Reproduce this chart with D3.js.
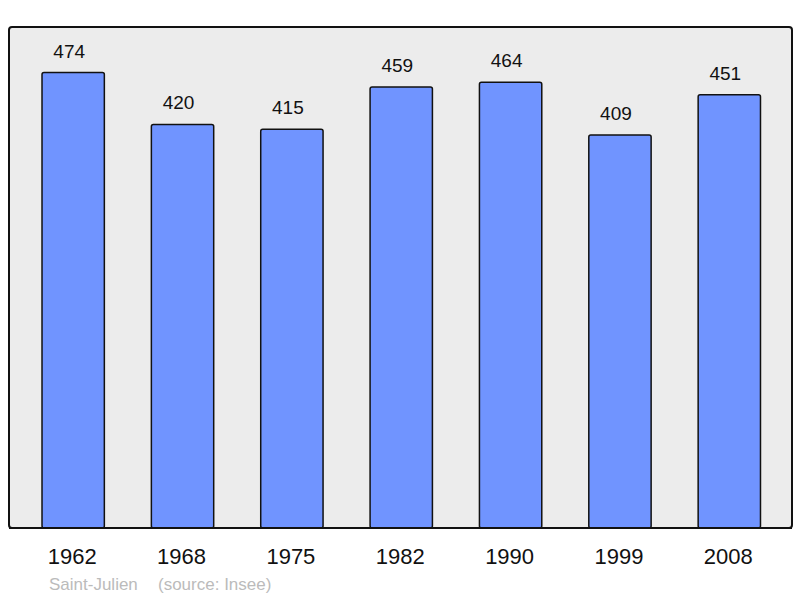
<!DOCTYPE html>
<html>
<head>
<meta charset="utf-8">
<script src="https://cdn.jsdelivr.net/npm/d3@7"></script>
<style>
  body { margin: 0; background: #fff; }
  text { font-family: "Liberation Sans", Arial, sans-serif; }
</style>
</head>
<body>
<svg id="chart" width="800" height="598"></svg>
<script>
// data
let years = ["1962", "1968", "1975", "1982", "1990", "1999", "2008"]
let population = [474, 420, 415, 459, 464, 409, 451]
let place = "Saint-Julien"
let source = "(source: Insee)"

let svg = d3.select("#chart"),
    frame = {left: 9, top: 27, right: 792, bottom: 528}

// background frame
svg.append("rect")
  .attr("x", frame.left)
  .attr("y", frame.top)
  .attr("width", frame.right - frame.left)
  .attr("height", frame.bottom - frame.top)
  .attr("rx", 3)
  .style("fill", "#ececec")
  .style("stroke", "#111")
  .style("stroke-width", 2)

let x = d3.scaleBand()
  .domain(years)
  .range([18.5, 784])
  .paddingInner(0.43)
  .paddingOuter(0.215)

let y = d3.scaleLinear()
  .domain([0, d3.max(population) * 1.1])
  .range([frame.bottom, frame.top])

let bars = svg.selectAll(".bar")
  .data(years.map(function(d, i) { return {year: d, value: population[i]} }))
  .enter().append("g")
    .attr("class", "bar")

bars.append("rect")
  .attr("x", function(d) { return x(d.year) })
  .attr("y", function(d) { return y(d.value) })
  .attr("width", x.bandwidth())
  .attr("height", function(d) { return frame.bottom - y(d.value) })
  .attr("rx", 2)
  .style("fill", "#7094ff")
  .style("stroke", "#111")
  .style("stroke-width", 1.5)

bars.append("text")
  .attr("x", function(d) { return x(d.year) + x.bandwidth() / 2 - 4 })
  .attr("y", function(d) { return y(d.value) - 15 })
  .attr("text-anchor", "middle")
  .style("font-size", "19px")
  .style("fill", "#111")
  .text(function(d) { return d.value })

// baseline of the frame drawn again over the bars
svg.append("line")
  .attr("x1", frame.left).attr("x2", frame.right)
  .attr("y1", frame.bottom).attr("y2", frame.bottom)
  .style("stroke", "#111")
  .style("stroke-width", 2)

// year labels
svg.selectAll(".year")
  .data(years)
  .enter().append("text")
    .attr("class", "year")
    .attr("x", function(d) { return x(d) + x.bandwidth() / 2 - 1 })
    .attr("y", 564)
    .attr("text-anchor", "middle")
    .style("font-size", "22px")
    .style("fill", "#111")
    .text(function(d) { return d })

svg.append("text")
  .attr("x", 49)
  .attr("y", 590)
  .style("font-size", "17px")
  .style("fill", "#bbb")
  .text(place)

svg.append("text")
  .attr("x", 158)
  .attr("y", 590)
  .style("font-size", "17px")
  .style("fill", "#bbb")
  .text(source)
</script>
</body>
</html>
